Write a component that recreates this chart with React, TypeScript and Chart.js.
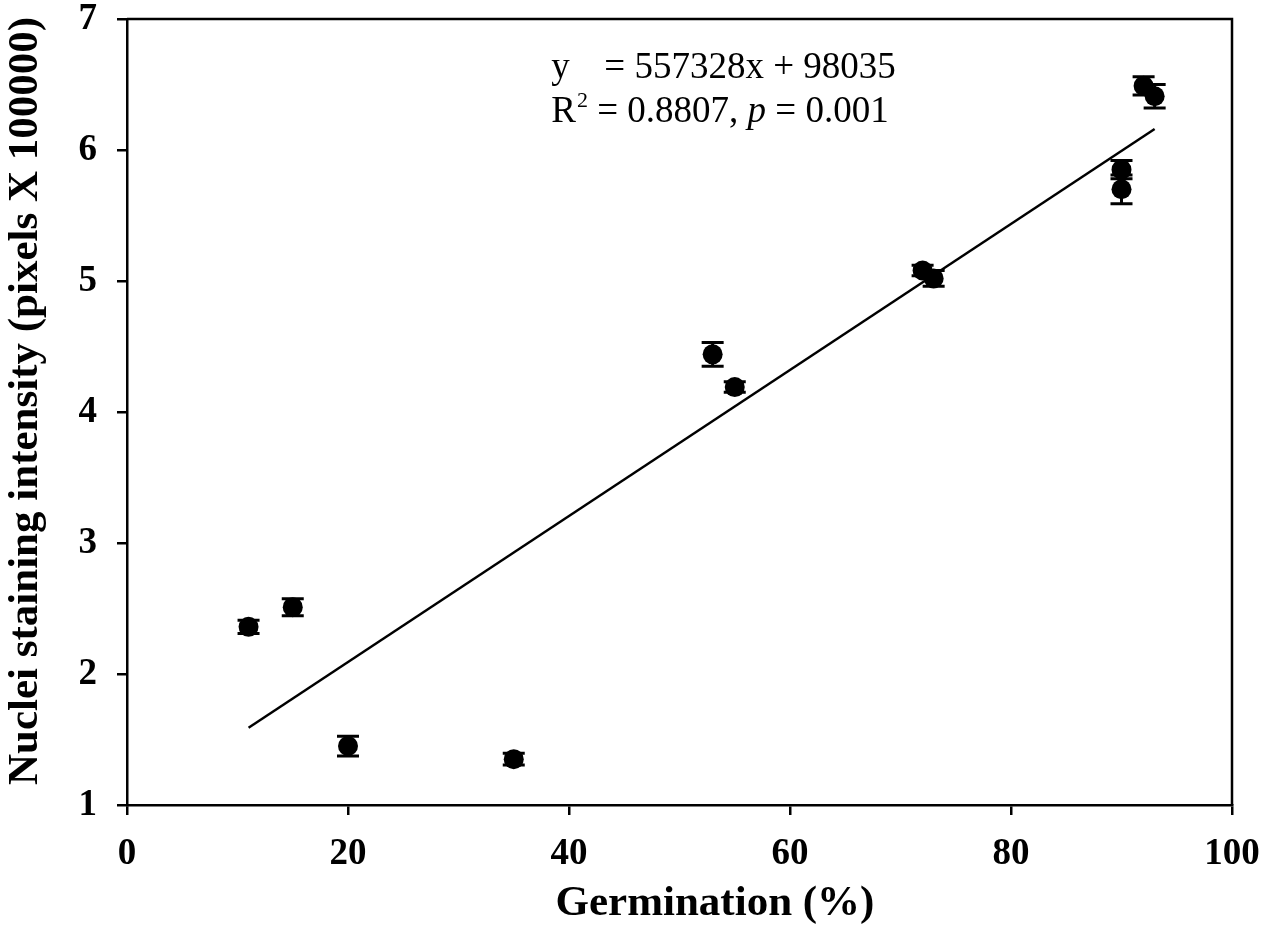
import React, { useEffect, useRef } from 'react';
import { Chart, registerables } from 'chart.js';

Chart.register(...registerables);

// germination (%) vs nuclei staining intensity (pixels x 100000)
const germination = [11, 15, 20, 35, 53, 55, 72, 73, 90, 90, 92, 93];
const intensity = [2.36, 2.51, 1.45, 1.35, 4.44, 4.19, 5.08, 5.02, 5.85, 5.7, 6.49, 6.41];
const errorSize = [0.05, 0.065, 0.075, 0.045, 0.09, 0.04, 0.04, 0.06, 0.07, 0.11, 0.07, 0.09];

// regression line end points
const trendX = [11, 93];
const trendY = [1.59, 6.16];

const xTicks = [0, 20, 40, 60, 80, 100];
const yTicks = [1, 2, 3, 4, 5, 6, 7];

const xTitle = 'Germination (%)';
const yTitle = 'Nuclei staining intensity (pixels X 100000)';

const SERIF = '"Liberation Serif", "Times New Roman", serif';

const decorations = {
  id: 'decorations',
  afterDatasetsDraw(chart: any) {
    const { ctx, chartArea, scales } = chart;
    const xs = scales.x;
    const ys = scales.y;
    ctx.save();
    ctx.strokeStyle = '#000';
    ctx.fillStyle = '#000';

    // error bars
    ctx.lineWidth = 3;
    germination.forEach((g, i) => {
      const px = xs.getPixelForValue(g);
      const top = ys.getPixelForValue(intensity[i] + errorSize[i]);
      const bot = ys.getPixelForValue(intensity[i] - errorSize[i]);
      ctx.beginPath();
      ctx.moveTo(px, top);
      ctx.lineTo(px, bot);
      ctx.moveTo(px - 11, top);
      ctx.lineTo(px + 11, top);
      ctx.moveTo(px - 11, bot);
      ctx.lineTo(px + 11, bot);
      ctx.stroke();
    });

    // top and right frame
    ctx.lineWidth = 2.5;
    ctx.beginPath();
    ctx.moveTo(chartArea.left, chartArea.top);
    ctx.lineTo(chartArea.right, chartArea.top);
    ctx.lineTo(chartArea.right, chartArea.bottom);
    ctx.stroke();

    // equation text
    const ex = xs.getPixelForValue(38.4);
    const b1 = ys.getPixelForValue(6.55);
    const b2 = ys.getPixelForValue(6.21);
    ctx.textBaseline = 'alphabetic';
    ctx.textAlign = 'left';
    ctx.font = `37px ${SERIF}`;
    ctx.fillText('y', ex, b1);
    ctx.fillText('= 557328x + 98035', ex + 53, b1);

    let cx = ex;
    ctx.fillText('R', cx, b2);
    cx += ctx.measureText('R').width + 1;
    ctx.font = `22px ${SERIF}`;
    ctx.fillText('2', cx, b2 - 15);
    cx += ctx.measureText('2').width;
    ctx.font = `37px ${SERIF}`;
    const part1 = ' = 0.8807, ';
    ctx.fillText(part1, cx, b2);
    cx += ctx.measureText(part1).width;
    ctx.font = `italic 37px ${SERIF}`;
    ctx.fillText('p', cx, b2);
    cx += ctx.measureText('p').width;
    ctx.font = `37px ${SERIF}`;
    ctx.fillText(' = 0.001', cx, b2);

    // axis titles
    ctx.font = `bold 43px ${SERIF}`;
    ctx.textAlign = 'center';
    ctx.fillText(xTitle, 715, 915);
    ctx.save();
    ctx.translate(37, 401);
    ctx.rotate(-Math.PI / 2);
    ctx.fillText(yTitle, 0, 0);
    ctx.restore();

    ctx.restore();
  },
};

const App: React.FC = () => {
  const canvasRef = useRef<HTMLCanvasElement>(null);
  const chartRef = useRef<Chart | null>(null);

  useEffect(() => {
    if (!canvasRef.current) return;
    if (chartRef.current) chartRef.current.destroy();

    const tickFont = { family: SERIF, size: 37, weight: 'bold' as const };

    chartRef.current = new Chart(canvasRef.current, {
      type: 'scatter',
      data: {
        datasets: [
          {
            label: 'trend',
            data: trendX.map((x, i) => ({ x, y: trendY[i] })),
            showLine: true,
            borderColor: '#000',
            borderWidth: 2.5,
            pointRadius: 0,
            fill: false,
          },
          {
            label: 'samples',
            data: germination.map((x, i) => ({ x, y: intensity[i] })),
            backgroundColor: '#000',
            borderColor: '#000',
            pointRadius: 10,
            pointBorderWidth: 0,
          },
        ],
      },
      options: {
        responsive: true,
        maintainAspectRatio: false,
        animation: false,
        layout: { padding: { top: 19, right: 35, left: 0, bottom: 0 } },
        plugins: {
          legend: { display: false },
          tooltip: { enabled: false },
        },
        scales: {
          x: {
            type: 'linear',
            min: 0,
            max: 100,
            afterBuildTicks: (scale: any) => {
              scale.ticks = xTicks.map((v) => ({ value: v }));
            },
            afterFit: (scale: any) => {
              scale.height = 127;
              scale.paddingLeft = 0;
              scale.paddingRight = 0;
            },
            grid: { drawOnChartArea: false, drawTicks: true, tickLength: 10, color: '#000', lineWidth: 2.5 },
            border: { display: true, color: '#000', width: 2.5 },
            ticks: { color: '#000', font: tickFont, padding: 17, maxRotation: 0 },
          },
          y: {
            type: 'linear',
            min: 1,
            max: 7,
            afterBuildTicks: (scale: any) => {
              scale.ticks = yTicks.map((v) => ({ value: v }));
            },
            afterFit: (scale: any) => {
              scale.width = 127;
              scale.paddingTop = 0;
              scale.paddingBottom = 0;
            },
            grid: { drawOnChartArea: false, drawTicks: true, tickLength: 10, color: '#000', lineWidth: 2.5 },
            border: { display: true, color: '#000', width: 2.5 },
            ticks: { color: '#000', font: tickFont, padding: 20 },
          },
        },
      },
      plugins: [decorations],
    });

    return () => {
      if (chartRef.current) {
        chartRef.current.destroy();
        chartRef.current = null;
      }
    };
  }, []);

  return (
    <div style={{ position: 'absolute', left: 0, top: 0, width: 1267, height: 932, background: '#fff' }}>
      <canvas ref={canvasRef}></canvas>
    </div>
  );
};

export default App;
